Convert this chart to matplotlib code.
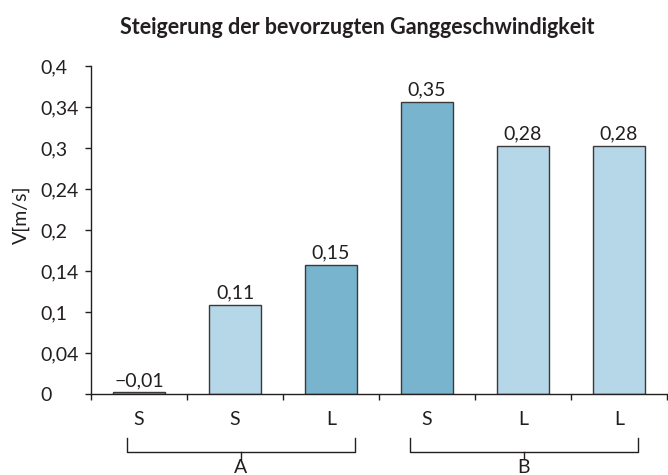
import matplotlib
matplotlib.use("Agg")
import matplotlib.pyplot as plt
import matplotlib.transforms as mtransforms
import numpy as np

plt.rcParams['font.family'] = ['Lato', 'DejaVu Sans']

# ---- data ----
title = "Steigerung der bevorzugten Ganggeschwindigkeit"
ylabel = "V[m/s]"
categories = ["S", "S", "L", "S", "L", "L"]
groups = ["A", "B"]
# bar heights (axis units)
heights = [0.002, 0.109, 0.157, 0.356, 0.303, 0.303]
value_labels = ["\u22120,01", "0,11", "0,15", "0,35", "0,28", "0,28"]
shade = ["dark", "light", "dark", "dark", "light", "light"]
ytick_values = [0, 0.05, 0.1, 0.15, 0.2, 0.25, 0.3, 0.35, 0.4]
ytick_labels = ["0", "0,04", "0,1", "0,14", "0,2", "0,24", "0,3", "0,34", "0,4"]

colors = {"dark": "#79b4cf", "light": "#b5d7e7"}
ink = "#231f20"
fs = 14

fig = plt.figure(figsize=(6.68, 4.75), dpi=100)
ax = fig.add_axes([91/668, 1-394/475, 1-91/668, (394-66)/475])

x = np.arange(len(categories))
ax.bar(x, heights, width=0.54, color=[colors[s] for s in shade],
       edgecolor="#3a3a3a", linewidth=1.0, zorder=2)

for xi, h, lab in zip(x, heights, value_labels):
    ax.annotate(lab, (xi, h), xytext=(0, 2.5), textcoords="offset points",
                ha="center", va="bottom", fontsize=fs, color=ink)

ax.set_xlim(-0.5, len(categories) - 0.5 + 0.01)
ax.set_ylim(0, 0.4)

for s in ["top", "right"]:
    ax.spines[s].set_visible(False)
for s in ["left", "bottom"]:
    ax.spines[s].set_color(ink)
    ax.spines[s].set_linewidth(1.0)

ax.set_yticks(ytick_values)
ax.set_yticklabels(ytick_labels, fontsize=fs, color=ink)
ax.tick_params(axis="y", length=4.3, width=1.0, color=ink, pad=32.0)
for t in ax.get_yticklabels():
    t.set_horizontalalignment("left")

ax.set_xticks(x)
ax.set_xticklabels(categories, fontsize=fs, color=ink)
ax.tick_params(axis="x", which="major", length=0, pad=12)
ax.set_xticks(np.arange(-0.5, len(categories) - 0.4, 1.0), minor=True)
ax.tick_params(axis="x", which="minor", length=4.3, width=1.0, color=ink,
               direction="out")

fig.text(21/668, 1-215/475, ylabel, rotation=90, ha="center", va="center",
         fontsize=fs, color=ink)

fig.text(357/668, 1-28/475, title, ha="center", va="center",
         fontsize=15.5, fontweight="bold", color=ink)

# group brackets
trans = mtransforms.blended_transform_factory(ax.transData, fig.transFigure)
spans = [(-0.13, 2.245), (2.82, 5.195)]
y_top, y_mid, y_bot = 1-438/475, 1-452/475, 1-459/475
for (x0, x1), g in zip(spans, groups):
    xc = (x0 + x1) / 2
    ax.plot([x0, x0, x1, x1], [y_top, y_mid, y_mid, y_top], color=ink,
            lw=1.0, transform=trans, clip_on=False)
    ax.plot([xc, xc], [y_mid, y_bot], color=ink, lw=1.0,
            transform=trans, clip_on=False)
    ax.text(xc, 1-473/475, g, ha="center", va="baseline", fontsize=fs,
            color=ink, transform=trans)

fig.savefig("out.png", dpi=100)
